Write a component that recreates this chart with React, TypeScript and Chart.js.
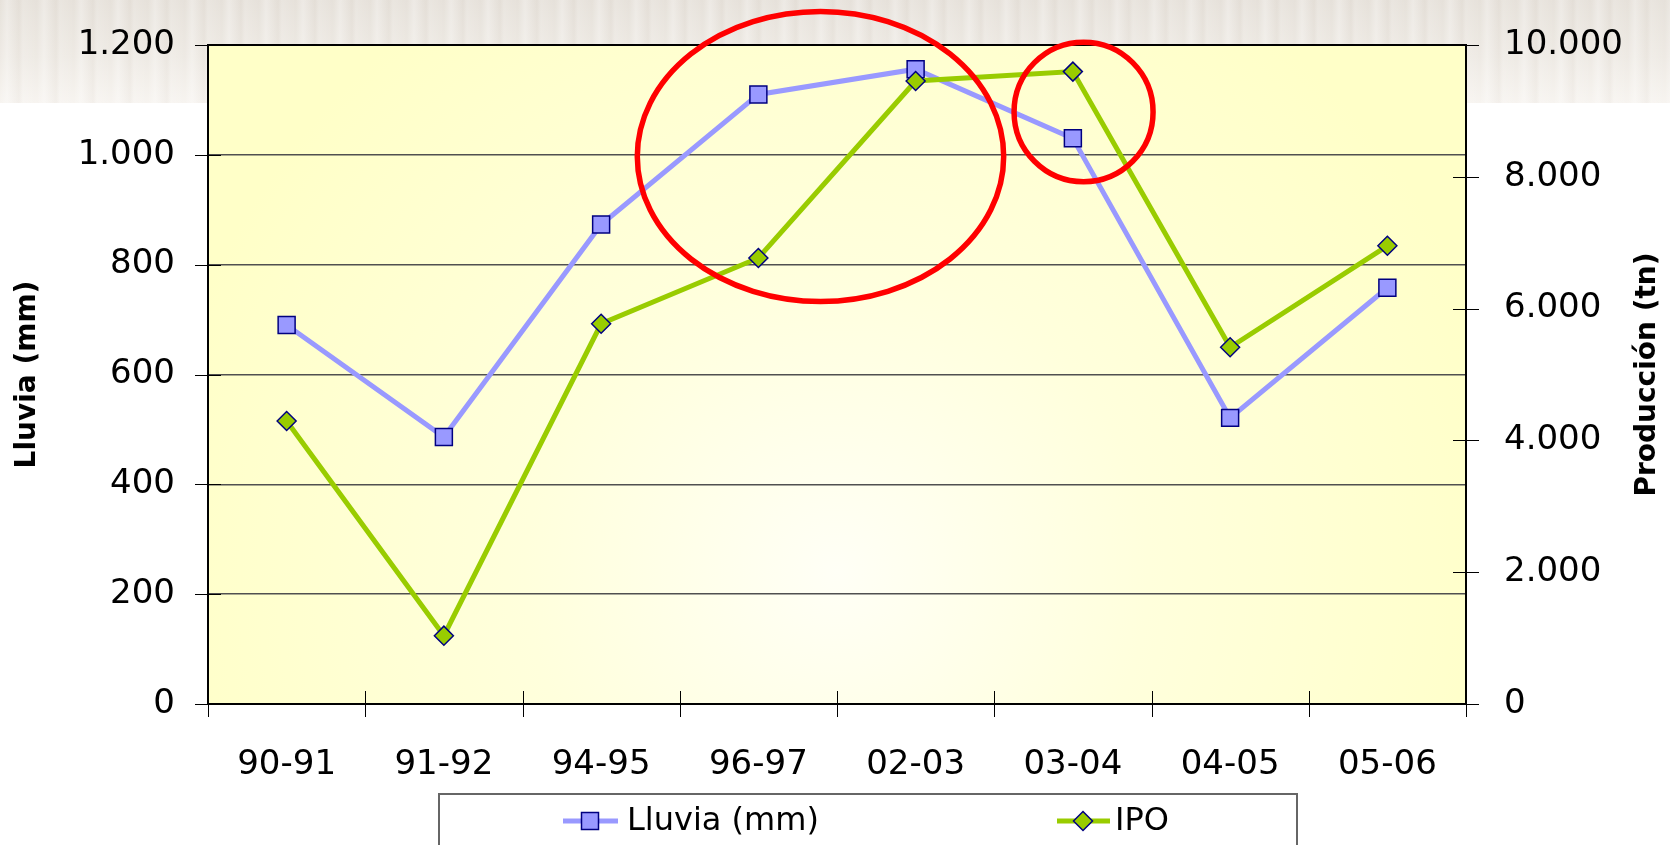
import React, { useEffect, useRef } from 'react';
import { Chart, registerables } from 'chart.js';

Chart.register(...registerables);

const categories = ['90-91', '91-92', '94-95', '96-97', '02-03', '03-04', '04-05', '05-06'];
const lluviaLabel = 'Lluvia (mm)';
const ipoLabel = 'IPO';
const lluvia = [690, 486, 873, 1110, 1156, 1030, 521, 758];
const ipo = [4295, 1037, 5770, 6768, 9454, 9596, 5413, 6953];
const leftTitle = 'Lluvia (mm)';
const rightTitle = 'Producción (tn)';
const leftMax = 1200;
const leftStep = 200;
const rightMax = 10000;
const rightStep = 2000;
// highlight ellipses: centre (category index, left-axis value), radii (categories, left-axis units)
const ellipseCx = [3.395, 5.068];
const ellipseCy = [997, 1078];
const ellipseRx = [1.165, 0.442];
const ellipseRy = [264, 127];

const BLUE = '#9999ff';
const GREEN = '#99cc00';
const NAVY = '#000080';
const FONT = '"DejaVu Sans", sans-serif';
const CLEAR = 'rgba(0,0,0,0)';

const fmt = (v: number | string) => String(v).replace(/\B(?=(\d{3})+(?!\d))/g, '.');

function drawSquare(ctx: CanvasRenderingContext2D, x: number, y: number, side: number) {
  ctx.beginPath();
  ctx.rect(x - side / 2, y - side / 2, side, side);
  ctx.fillStyle = BLUE;
  ctx.fill();
  ctx.lineWidth = 1.5;
  ctx.strokeStyle = NAVY;
  ctx.stroke();
}
function drawDiamond(ctx: CanvasRenderingContext2D, x: number, y: number, r: number) {
  ctx.beginPath();
  ctx.moveTo(x, y - r);
  ctx.lineTo(x + r, y);
  ctx.lineTo(x, y + r);
  ctx.lineTo(x - r, y);
  ctx.closePath();
  ctx.fillStyle = GREEN;
  ctx.fill();
  ctx.lineWidth = 1.5;
  ctx.strokeStyle = NAVY;
  ctx.stroke();
}

const decoPlugin = {
  id: 'deco',
  beforeDraw(chart: any) {
    const { ctx, chartArea: a } = chart;
    const w = a.right - a.left;
    const h = a.bottom - a.top;
    const cx = a.left + w * 0.5;
    const cy = a.top + h * 0.8;
    const g = ctx.createRadialGradient(cx, cy, 0, cx, cy, w * 0.55);
    g.addColorStop(0, '#fffff6');
    g.addColorStop(0.45, '#ffffdc');
    g.addColorStop(1, '#ffffc8');
    ctx.save();
    ctx.fillStyle = g;
    ctx.fillRect(a.left, a.top, w, h);
    ctx.restore();
  },
  beforeDatasetsDraw(chart: any) {
    const { ctx, chartArea: a, scales } = chart;
    const x = scales.x;
    const y = scales.y;
    const y1 = scales.y1;
    ctx.save();
    ctx.strokeStyle = '#000';
    ctx.lineWidth = 1;
    y.ticks.forEach((t: any) => {
      const py = Math.round(y.getPixelForValue(t.value)) + 0.5;
      ctx.beginPath();
      ctx.moveTo(a.left - 13, py);
      ctx.lineTo(a.left + 13, py);
      ctx.stroke();
    });
    y1.ticks.forEach((t: any) => {
      const py = Math.round(y1.getPixelForValue(t.value)) + 0.5;
      ctx.beginPath();
      ctx.moveTo(a.right - 13, py);
      ctx.lineTo(a.right + 13, py);
      ctx.stroke();
    });
    const half = (x.getPixelForValue(1) - x.getPixelForValue(0)) / 2;
    for (let i = 0; i <= categories.length; i++) {
      const px = Math.round(x.getPixelForValue(i) - half) + 0.5;
      ctx.beginPath();
      ctx.moveTo(px, a.bottom - 13);
      ctx.lineTo(px, a.bottom + 13);
      ctx.stroke();
    }
    ctx.lineWidth = 2;
    ctx.strokeStyle = '#000';
    ctx.strokeRect(a.left, a.top, a.right - a.left, a.bottom - a.top);
    ctx.restore();
  },
  afterDatasetsDraw(chart: any) {
    const { ctx, scales } = chart;
    const x = scales.x;
    const y = scales.y;
    const spacing = x.getPixelForValue(1) - x.getPixelForValue(0);
    ctx.save();
    ctx.strokeStyle = '#ff0000';
    ctx.lineWidth = 5.5;
    for (let i = 0; i < ellipseCx.length; i++) {
      const cx = x.getPixelForValue(ellipseCx[i]);
      const cy = y.getPixelForValue(ellipseCy[i]);
      const rx = ellipseRx[i] * spacing;
      const ry = Math.abs(y.getPixelForValue(0) - y.getPixelForValue(ellipseRy[i]));
      ctx.beginPath();
      ctx.ellipse(cx, cy, rx, ry, 0, 0, Math.PI * 2);
      ctx.stroke();
    }
    ctx.restore();
  },
  afterDraw(chart: any) {
    const { ctx, chartArea: a } = chart;
    ctx.save();
    ctx.translate(1648, (a.top + a.bottom) / 2);
    ctx.rotate(-Math.PI / 2);
    ctx.font = `bold 28px ${FONT}`;
    ctx.fillStyle = '#000';
    ctx.textAlign = 'center';
    ctx.textBaseline = 'middle';
    ctx.fillText(rightTitle, 0, 0);
    ctx.restore();

    ctx.save();
    ctx.fillStyle = '#fff';
    ctx.fillRect(439, 794, 858, 60);
    ctx.strokeStyle = '#666';
    ctx.lineWidth = 2;
    ctx.strokeRect(439, 794, 858, 60);
    const ly = 821;
    ctx.lineWidth = 5;
    ctx.strokeStyle = BLUE;
    ctx.beginPath();
    ctx.moveTo(563, ly);
    ctx.lineTo(618, ly);
    ctx.stroke();
    drawSquare(ctx, 590, ly, 17);
    ctx.strokeStyle = GREEN;
    ctx.lineWidth = 5;
    ctx.beginPath();
    ctx.moveTo(1057, ly);
    ctx.lineTo(1110, ly);
    ctx.stroke();
    drawDiamond(ctx, 1083, ly, 9.5);
    ctx.font = `32px ${FONT}`;
    ctx.fillStyle = '#000';
    ctx.textAlign = 'left';
    ctx.textBaseline = 'middle';
    ctx.fillText(chart.data.datasets[0].label, 627, ly + 1);
    ctx.fillText(chart.data.datasets[1].label, 1115, ly + 1);
    ctx.restore();
  },
};

export default function App() {
  const ref = useRef<HTMLCanvasElement>(null);
  useEffect(() => {
    const canvas = ref.current!;
    const chart = new Chart(canvas, {
      type: 'line',
      data: {
        labels: categories,
        datasets: [
          {
            label: lluviaLabel,
            data: lluvia,
            yAxisID: 'y',
            borderColor: BLUE,
            backgroundColor: BLUE,
            pointBackgroundColor: BLUE,
            pointBorderColor: NAVY,
            pointBorderWidth: 1.5,
            pointStyle: 'rect',
            pointRadius: 12,
            borderWidth: 5,
            tension: 0,
            order: 2,
          },
          {
            label: ipoLabel,
            data: ipo,
            yAxisID: 'y1',
            borderColor: GREEN,
            backgroundColor: GREEN,
            pointBackgroundColor: GREEN,
            pointBorderColor: NAVY,
            pointBorderWidth: 1.5,
            pointStyle: 'rectRot',
            pointRadius: 9.5,
            borderWidth: 5,
            tension: 0,
            order: 1,
          },
        ],
      },
      options: {
        responsive: false,
        animation: false,
        layout: { padding: { left: 0, right: 0, top: 45, bottom: 52 } },
        plugins: { legend: { display: false }, tooltip: { enabled: false } },
        scales: {
          x: {
            offset: true,
            grid: { display: false, drawTicks: false },
            border: { display: false },
            ticks: { font: { family: FONT, size: 34 }, color: '#000', padding: 41, maxRotation: 0 },
            afterFit: (s: any) => {
              s.height = 89;
            },
          },
          y: {
            position: 'left',
            min: 0,
            max: leftMax,
            ticks: { stepSize: leftStep, callback: (v: any) => fmt(v), font: { family: FONT, size: 34 }, color: '#000', padding: 0 },
            grid: { color: '#505050', lineWidth: 1.5, drawTicks: true, tickLength: 33, tickColor: CLEAR },
            border: { display: false },
            title: {
              display: true,
              text: leftTitle,
              font: { family: FONT, size: 28, weight: 'bold' },
              color: '#000',
              padding: { top: 11, bottom: 0 },
            },
            afterFit: (s: any) => {
              s.width = 208;
            },
          },
          y1: {
            position: 'right',
            min: 0,
            max: rightMax,
            ticks: { stepSize: rightStep, callback: (v: any) => fmt(v), font: { family: FONT, size: 34 }, color: '#000', padding: 0 },
            grid: { display: true, drawOnChartArea: false, color: CLEAR, drawTicks: true, tickLength: 38, tickColor: CLEAR },
            border: { display: false },
            afterFit: (s: any) => {
              s.width = 204;
            },
          },
        },
      } as any,
      plugins: [decoPlugin],
    });
    return () => chart.destroy();
  }, []);

  return (
    <div style={{ position: 'absolute', left: 0, top: 0, width: 1670, height: 845, background: '#fff', overflow: 'hidden' }}>
      <div
        style={{
          position: 'absolute',
          left: 0,
          top: 0,
          width: 1670,
          height: 103,
          background:
            'repeating-linear-gradient(90deg, rgba(255,255,255,0) 0px, rgba(255,255,255,0.3) 7px, rgba(205,195,185,0.10) 19px, rgba(255,255,255,0.15) 23px, rgba(255,255,255,0) 37px), linear-gradient(to bottom, #e6e1da 0%, #eeeae4 55%, #f7f4f0 100%)',
        }}
      />
      <canvas ref={ref} width={1670} height={845} style={{ position: 'absolute', left: 0, top: 0, width: 1670, height: 845 }} />
    </div>
  );
}
